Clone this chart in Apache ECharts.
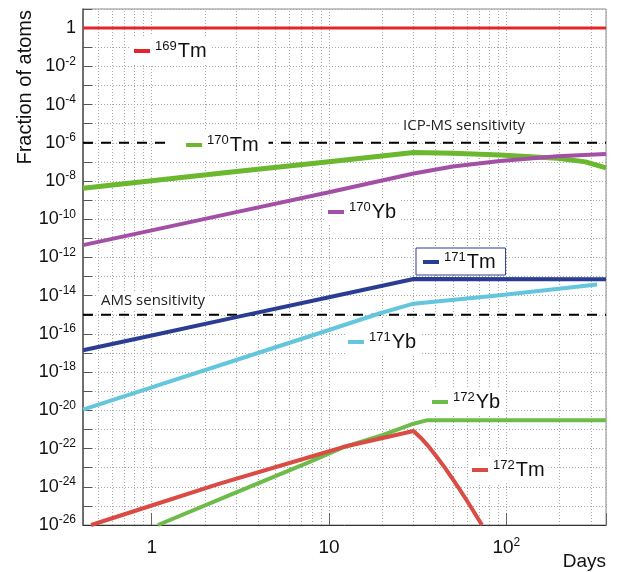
<!DOCTYPE html>
<html><head><meta charset="utf-8">
<script src="https://cdn.jsdelivr.net/npm/echarts@6/dist/echarts.min.js"></script>
<style>html,body{margin:0;padding:0;background:#fff}#c{width:617px;height:572px}</style>
</head><body><div id="c"></div>
<script>
// ---- data (days, fraction of atoms) ----
const isotopes = ['169Tm', '170Tm', '170Yb', '171Tm', '171Yb', '172Yb', '172Tm'];
const tm169 = [[0.41, 1], [365, 1]];
const tm170 = [[0.41, 4.2e-9], [1, 1.02e-8], [3, 3.1e-8], [10, 1.03e-7], [30, 3.1e-7], [50, 2.85e-7], [92, 2.3e-7], [194, 1.55e-7], [280, 1.0e-7], [365, 4.9e-8]];
const yb170 = [[0.41, 4.4e-12], [1, 2.6e-11], [3, 2.35e-10], [10, 2.6e-9], [30, 2.45e-8], [50, 5.7e-8], [92, 1.1e-7], [194, 2.0e-7], [365, 2.6e-7]];
const tm171 = [[0.41, 1.4e-17], [1, 8.3e-17], [3, 7.5e-16], [10, 8.3e-15], [30, 7.4e-14], [365, 7.2e-14]];
const yb171 = [[0.41, 1.1e-20], [1, 1.6e-19], [3, 4.3e-18], [10, 1.6e-16], [19.4, 1.2e-15], [30, 3.8e-15], [92, 1.05e-14], [325, 3.8e-14]];
const yb172 = [[1.085, 1e-26], [3, 5.1e-25], [7.8, 2.0e-23], [12, 1.15e-22], [20, 5.0e-22], [30, 2.0e-21], [35.5, 3.0e-21], [365, 3.0e-21]];
const tm172 = [[0.456, 1e-26], [1, 1.05e-25], [2.42, 1.45e-24], [7.8, 3.6e-23], [12, 1.2e-22], [30, 8.3e-22], [33, 3.6e-22], [36, 1.48e-22], [40, 4.3e-23], [45, 1.0e-23], [50, 2.45e-24], [55, 6.5e-25], [60, 1.86e-25], [66, 4.5e-26], [72.9, 1e-26]];
const seriesData = [tm169, tm170, yb170, tm171, yb171, yb172, tm172];
const icpms = [[0.41, 1e-6], [365, 1e-6]];
const ams = [[0.41, 1e-15], [365, 1e-15]];
const sensitivityNames = ['ICP-MS sensitivity', 'AMS sensitivity'];
const minorXGrid = [0.5, 0.6, 0.7, 0.8, 0.9, 2, 3, 4, 5, 6, 7, 8, 9, 20, 30, 40, 50, 60, 70, 80, 90, 200, 300];
const xRange = [0.41, 365];
const yRange = [1e-26, 10];

// ---- styles ----
const FONT = "'Liberation Sans', Arial, Helvetica, sans-serif";
const NOTE_FONT = "'Open Sans', sans-serif";
const colors = ['#e3262b', '#6bb82f', '#a44fa6', '#2b3d92', '#63c6dc', '#6dbb4a', '#da4b43'];
const widths = [3, 5, 4, 4, 4, 4, 4];
// legend anchor: icon left x, icon centre y; padding [t, r, b, l]
const legendPos = [[134, 51], [186, 145], [328, 212], [423, 262], [348, 342], [432, 402], [472, 470]];
const legendPad = [[4, 5, 4, 3], [4, 10, 4, 20], [3, 4, 3, 3], [3, 10, 3, 7], [3, 4, 3, 3], [3, 4, 3, 3], [3, 4, 3, 3]];
const GRIDLINE = { color: '#a8a8a8', width: 1, type: [1, 2] };

const legendRich = {
  s: { fontSize: 13, fontFamily: FONT, color: '#111', verticalAlign: 'top', lineHeight: 13, padding: [0, 1, 0, 0] },
  t: { fontSize: 20, fontFamily: FONT, color: '#111', lineHeight: 22 }
};
const expRich = {
  b: { fontSize: 18, fontFamily: FONT, color: '#111', lineHeight: 22 },
  s: { fontSize: 12, fontFamily: FONT, color: '#111', verticalAlign: 'top', lineHeight: 12 }
};
function isoFmt(name) {
  const m = name.match(/^(\d+)(\D+)$/);
  return '{s|' + m[1] + '}{t|' + m[2] + '}';
}
function exponentOf(v) {
  if (!(v > 0)) return null;
  const l = Math.log10(v), e = Math.round(l);
  return Math.abs(l - e) > 1e-6 ? null : e;
}
function yLabel(v) {
  const e = exponentOf(v);
  if (e === null || e % 2 !== 0 || e > 0) return '';
  if (e === 0) return '{b|1}';
  return '{b|10}{s|' + e + '}';
}

const series = isotopes.map((name, i) => ({
  name: name,
  type: 'line',
  data: seriesData[i],
  showSymbol: false,
  symbol: 'none',
  clip: true,
  z: 3,
  lineStyle: { color: colors[i], width: widths[i], cap: 'butt', join: 'round' },
  itemStyle: { color: colors[i] }
}));
series.push({
  name: sensitivityNames[0], type: 'line', data: icpms, showSymbol: false, symbol: 'none', z: 2,
  lineStyle: { color: '#000', width: 2, type: [10, 8] }, itemStyle: { color: '#000' },
  markLine: {
    silent: true, symbol: 'none', z: 1, animation: false,
    label: { show: false },
    lineStyle: GRIDLINE,
    data: minorXGrid.map(v => ({ xAxis: v }))
  }
});
series.push({
  name: sensitivityNames[1], type: 'line', data: ams, showSymbol: false, symbol: 'none', z: 2,
  lineStyle: { color: '#000', width: 2, type: [10, 8] }, itemStyle: { color: '#000' }
});

const legends = isotopes.map((name, i) => {
  const boxed = name === '171Tm';
  const pad = legendPad[i];
  const h = 22;
  return {
    data: [name],
    left: legendPos[i][0] - pad[3],
    top: legendPos[i][1] - h / 2 - pad[0],
    padding: pad,
    backgroundColor: '#fff',
    borderColor: boxed ? '#2b3d92' : 'transparent',
    borderWidth: boxed ? 1 : 0,
    icon: 'rect',
    itemWidth: 16,
    itemHeight: 4,
    selectedMode: false,
    formatter: isoFmt,
    textStyle: { rich: legendRich, fontFamily: FONT, fontSize: 20, color: '#111' },
    z: 10
  };
});

const chart = echarts.init(document.getElementById('c'), null, { renderer: 'canvas' });
chart.setOption({
  animation: false,
  backgroundColor: '#fff',
  grid: { left: 83, right: 11, top: 9, bottom: 47, show: true, borderColor: '#8a8a8a', borderWidth: 1, backgroundColor: 'transparent' },
  legend: legends,
  xAxis: {
    type: 'log', logBase: 10, min: xRange[0], max: xRange[1],
    name: 'Days',
    nameLocation: 'end', nameGap: 0,
    nameTextStyle: { fontFamily: FONT, fontSize: 19, color: '#111', align: 'right', verticalAlign: 'top', padding: [27, 0, 0, 0] },
    axisLine: { show: true, lineStyle: { color: '#333', width: 1 } },
    axisTick: { show: true, inside: true, length: 12, lineStyle: { color: '#666' } },
    splitLine: { show: true, lineStyle: GRIDLINE },
    axisLabel: {
      margin: 12,
      formatter: function (v) {
        const e = exponentOf(v);
        if (e === null) return '';
        if (e === 0) return '{b|1}';
        if (e === 1) return '{b|10}';
        return '{b|10}{s|' + e + '}';
      },
      rich: {
        b: { fontSize: 19, fontFamily: FONT, color: '#111', lineHeight: 22 },
        s: { fontSize: 12, fontFamily: FONT, color: '#111', verticalAlign: 'top', lineHeight: 12 }
      }
    }
  },
  yAxis: {
    type: 'log', logBase: 10, min: yRange[0], max: yRange[1], interval: 1,
    // ECharts cannot place a tick label on the fixed 1e-26 minimum, so that label is the axis name at the axis start
    name: yLabel(yRange[0]),
    nameLocation: 'start', nameGap: 0,
    nameTextStyle: { align: 'right', verticalAlign: 'middle', padding: [0, 7, 0, 0], rich: expRich },
    axisLine: { show: true, lineStyle: { color: '#555', width: 1.5 } },
    axisTick: { show: true, inside: true, length: 9, lineStyle: { color: '#555' } },
    splitLine: { show: true, lineStyle: GRIDLINE },
    axisLabel: { margin: 7, showMinLabel: false, formatter: yLabel, rich: expRich }
  },
  graphic: [
    { type: 'text', x: 25, y: 10, rotation: Math.PI / 2, z: 10,
      style: { text: 'Fraction of atoms', font: '20px ' + FONT, fill: '#111', align: 'right', verticalAlign: 'middle' } },
    { type: 'text', left: 400, top: 117, z: 10,
      style: { text: sensitivityNames[0], font: '15px ' + NOTE_FONT, fill: '#222', backgroundColor: '#fff', padding: [1, 3] } },
    { type: 'text', left: 98, top: 292, z: 10,
      style: { text: sensitivityNames[1], font: '15px ' + NOTE_FONT, fill: '#222', backgroundColor: '#fff', padding: [1, 3] } }
  ],
  series: series
});
</script>
</body></html>
